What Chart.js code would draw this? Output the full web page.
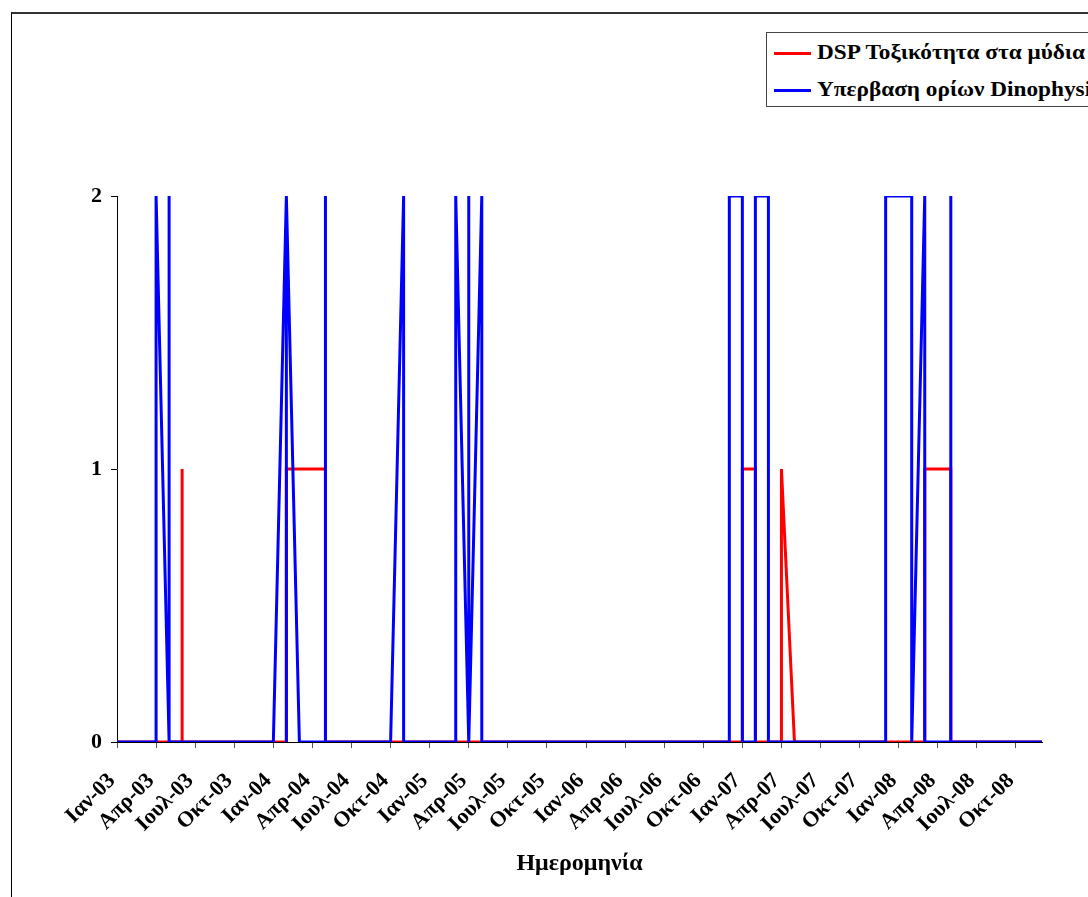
<!DOCTYPE html>
<html>
<head>
<meta charset="utf-8">
<script src="https://cdn.jsdelivr.net/npm/chart.js@4.4.1/dist/chart.umd.min.js"></script>
<style>
html,body{margin:0;padding:0;background:#fff;overflow:hidden;width:1088px;height:897px;}
#frame{position:absolute;left:11px;top:12px;width:2000px;height:2000px;border-left:1px solid #000;border-top:2px solid #333;box-sizing:border-box;}
#wrap{position:absolute;left:0;top:0;width:1088px;height:897px;}
#legend{position:absolute;left:766px;top:32px;width:420px;height:73px;border:1px solid #444;background:#fff;font:bold 22px "Liberation Serif","Times New Roman",serif;color:#000;}
.sw{position:absolute;left:7px;width:37px;height:3px;}
.lb{position:absolute;left:50px;line-height:24px;white-space:nowrap;transform:scaleX(1.057);transform-origin:0 50%;}
</style>
</head>
<body>
<div id="frame"></div>
<div id="wrap"><canvas id="c"></canvas></div>
<div id="legend">
  <div class="sw" style="top:19px;background:#ff0000"></div>
  <div class="lb" id="lb0" style="top:7px"></div>
  <div class="sw" style="top:56px;background:#0000ff"></div>
  <div class="lb" id="lb1" style="top:44px"></div>
</div>
<script>
// Monthly categories (date axis, base unit = month)
const months = [
  "Ιαν-03","Φεβ-03","Μαρ-03","Απρ-03","Μαϊ-03","Ιουν-03","Ιουλ-03","Αυγ-03","Σεπ-03","Οκτ-03","Νοε-03","Δεκ-03",
  "Ιαν-04","Φεβ-04","Μαρ-04","Απρ-04","Μαϊ-04","Ιουν-04","Ιουλ-04","Αυγ-04","Σεπ-04","Οκτ-04","Νοε-04","Δεκ-04",
  "Ιαν-05","Φεβ-05","Μαρ-05","Απρ-05","Μαϊ-05","Ιουν-05","Ιουλ-05","Αυγ-05","Σεπ-05","Οκτ-05","Νοε-05","Δεκ-05",
  "Ιαν-06","Φεβ-06","Μαρ-06","Απρ-06","Μαϊ-06","Ιουν-06","Ιουλ-06","Αυγ-06","Σεπ-06","Οκτ-06","Νοε-06","Δεκ-06",
  "Ιαν-07","Φεβ-07","Μαρ-07","Απρ-07","Μαϊ-07","Ιουν-07","Ιουλ-07","Αυγ-07","Σεπ-07","Οκτ-07","Νοε-07","Δεκ-07",
  "Ιαν-08","Φεβ-08","Μαρ-08","Απρ-08","Μαϊ-08","Ιουν-08","Ιουλ-08","Αυγ-08","Σεπ-08","Οκτ-08","Νοε-08","Δεκ-08"
];
// Quarterly tick labels shown on the axis
const tickLabels = [
  "Ιαν-03","Απρ-03","Ιουλ-03","Οκτ-03","Ιαν-04","Απρ-04","Ιουλ-04","Οκτ-04",
  "Ιαν-05","Απρ-05","Ιουλ-05","Οκτ-05","Ιαν-06","Απρ-06","Ιουλ-06","Οκτ-06",
  "Ιαν-07","Απρ-07","Ιουλ-07","Οκτ-07","Ιαν-08","Απρ-08","Ιουλ-08","Οκτ-08"
];
const yTicks = [0, 1, 2];
const seriesNames = ["DSP Τοξικότητα στα μύδια", "Υπερβαση ορίων Dinophysis"];
const xTitle = "Ημερομηνία";

// DSP toxicity samples (month of sample, value)
const dspDates = [
  "Ιαν-03","Φεβ-03","Μαρ-03","Απρ-03","Μαϊ-03","Ιουν-03","Ιουν-03","Ιουν-03","Ιουλ-03","Αυγ-03","Σεπ-03","Οκτ-03","Νοε-03","Δεκ-03",
  "Ιαν-04","Φεβ-04","Φεβ-04","Μαρ-04","Απρ-04","Μαϊ-04","Μαϊ-04","Ιουν-04","Ιουλ-04","Αυγ-04","Σεπ-04","Οκτ-04","Νοε-04","Δεκ-04",
  "Ιαν-05","Φεβ-05","Μαρ-05","Απρ-05","Μαϊ-05","Ιουν-05","Ιουλ-05","Αυγ-05","Σεπ-05","Οκτ-05","Νοε-05","Δεκ-05",
  "Ιαν-06","Φεβ-06","Μαρ-06","Απρ-06","Μαϊ-06","Ιουν-06","Ιουλ-06","Αυγ-06","Σεπ-06","Οκτ-06","Νοε-06","Δεκ-06",
  "Ιαν-07","Ιαν-07","Φεβ-07","Φεβ-07","Μαρ-07","Απρ-07","Απρ-07","Μαϊ-07","Ιουν-07","Ιουλ-07","Αυγ-07","Σεπ-07","Οκτ-07","Νοε-07","Δεκ-07",
  "Ιαν-08","Φεβ-08","Μαρ-08","Μαρ-08","Απρ-08","Μαϊ-08","Μαϊ-08","Ιουν-08","Ιουλ-08","Αυγ-08","Σεπ-08","Οκτ-08","Νοε-08","Δεκ-08"
];
const dspValues = [
  0,0,0,0,0,0,1,0,0,0,0,0,0,0,
  0,0,1,1,1,1,0,0,0,0,0,0,0,0,
  0,0,0,0,0,0,0,0,0,0,0,0,
  0,0,0,0,0,0,0,0,0,0,0,0,
  0,1,1,0,0,0,1,0,0,0,0,0,0,0,0,
  0,0,0,1,1,1,0,0,0,0,0,0,0,0
];

// Dinophysis limit exceedance samples (month of sample, value)
const dinoDates = [
  "Ιαν-03","Φεβ-03","Μαρ-03","Απρ-03","Απρ-03","Μαϊ-03","Μαϊ-03","Μαϊ-03","Ιουν-03","Ιουλ-03","Αυγ-03","Σεπ-03","Οκτ-03","Νοε-03","Δεκ-03",
  "Ιαν-04","Φεβ-04","Φεβ-04","Φεβ-04","Μαρ-04","Απρ-04","Μαϊ-04","Μαϊ-04","Μαϊ-04","Ιουν-04","Ιουλ-04","Αυγ-04","Σεπ-04","Οκτ-04","Νοε-04","Νοε-04","Δεκ-04",
  "Ιαν-05","Φεβ-05","Μαρ-05","Μαρ-05","Απρ-05","Απρ-05","Απρ-05","Μαϊ-05","Μαϊ-05","Ιουν-05","Ιουλ-05","Αυγ-05","Σεπ-05","Οκτ-05","Νοε-05","Δεκ-05",
  "Ιαν-06","Φεβ-06","Μαρ-06","Απρ-06","Μαϊ-06","Ιουν-06","Ιουλ-06","Αυγ-06","Σεπ-06","Οκτ-06","Νοε-06","Δεκ-06","Δεκ-06",
  "Ιαν-07","Ιαν-07","Φεβ-07","Φεβ-07","Μαρ-07","Μαρ-07","Απρ-07","Μαϊ-07","Ιουν-07","Ιουλ-07","Αυγ-07","Σεπ-07","Οκτ-07","Νοε-07","Δεκ-07","Δεκ-07",
  "Ιαν-08","Φεβ-08","Φεβ-08","Μαρ-08","Μαρ-08","Απρ-08","Μαϊ-08","Μαϊ-08","Μαϊ-08","Ιουν-08","Ιουλ-08","Αυγ-08","Σεπ-08","Οκτ-08","Νοε-08","Δεκ-08"
];
const dinoValues = [
  0,0,0,0,2,0,2,0,0,0,0,0,0,0,0,
  0,2,0,2,0,0,0,2,0,0,0,0,0,0,2,0,0,
  0,0,0,2,0,2,0,2,0,0,0,0,0,0,0,0,
  0,0,0,0,0,0,0,0,0,0,0,0,2,
  2,0,0,2,2,0,0,0,0,0,0,0,0,0,0,2,
  2,2,0,2,0,0,0,2,0,0,0,0,0,0,0,0
];

document.getElementById('lb0').textContent = seriesNames[0];
document.getElementById('lb1').textContent = seriesNames[1];

function pts(dates, vals){ return dates.map((d,i)=>({x:d, y:vals[i]})); }

const serif = '"Liberation Serif","Times New Roman",serif';

new Chart(document.getElementById('c'), {
  type: 'line',
  data: {
    labels: months,
    datasets: [
      { label: seriesNames[0], data: pts(dspDates, dspValues), borderColor:'#ff0000', backgroundColor:'#ff0000',
        borderWidth:3, pointRadius:0, tension:0, fill:false, order:1 },
      { label: seriesNames[1], data: pts(dinoDates, dinoValues), borderColor:'#0000ff', backgroundColor:'#0000ff',
        borderWidth:3, pointRadius:0, tension:0, fill:false, order:0 }
    ]
  },
  options: {
    responsive: true,
    maintainAspectRatio: false,
    animation: false,
    layout: { padding: { top:196, right:46, left:0, bottom:0 } },
    plugins: { legend: { display:false }, tooltip: { enabled:false } },
    scales: {
      x: {
        type: 'category',
        offset: false,
        afterFit: s => { s.height = 155; },
        border: { display:true, color:'#000', width:1 },
        grid: { drawOnChartArea:false, drawTicks:true, tickLength:6,
                tickColor: c => (tickLabels.includes(months[c.index]) ? '#555' : 'rgba(0,0,0,0)') },
        ticks: {
          autoSkip:false, minRotation:45, maxRotation:45, padding:20, labelOffset:-5, color:'#000',
          font: { family: serif, size:22, weight:'bold' },
          callback: (v, i) => (tickLabels.includes(months[i]) ? months[i] : '')
        },
        title: { display:true, text:xTitle, color:'#000', font:{ family: serif, size:24, weight:'bold' },
                 padding:{ top:0, bottom:19 } }
      },
      y: {
        min: 0, max: 2,
        afterFit: s => { s.width = 117; },
        afterBuildTicks: s => { s.ticks = yTicks.map(v => ({ value: v })); },
        border: { display:true, color:'#000', width:1 },
        grid: { drawOnChartArea:false, drawTicks:true, tickLength:6, tickColor:'#000' },
        ticks: { padding:9, color:'#000', font:{ family: serif, size:22, weight:'bold' } }
      }
    }
  }
});
</script>
</body>
</html>
